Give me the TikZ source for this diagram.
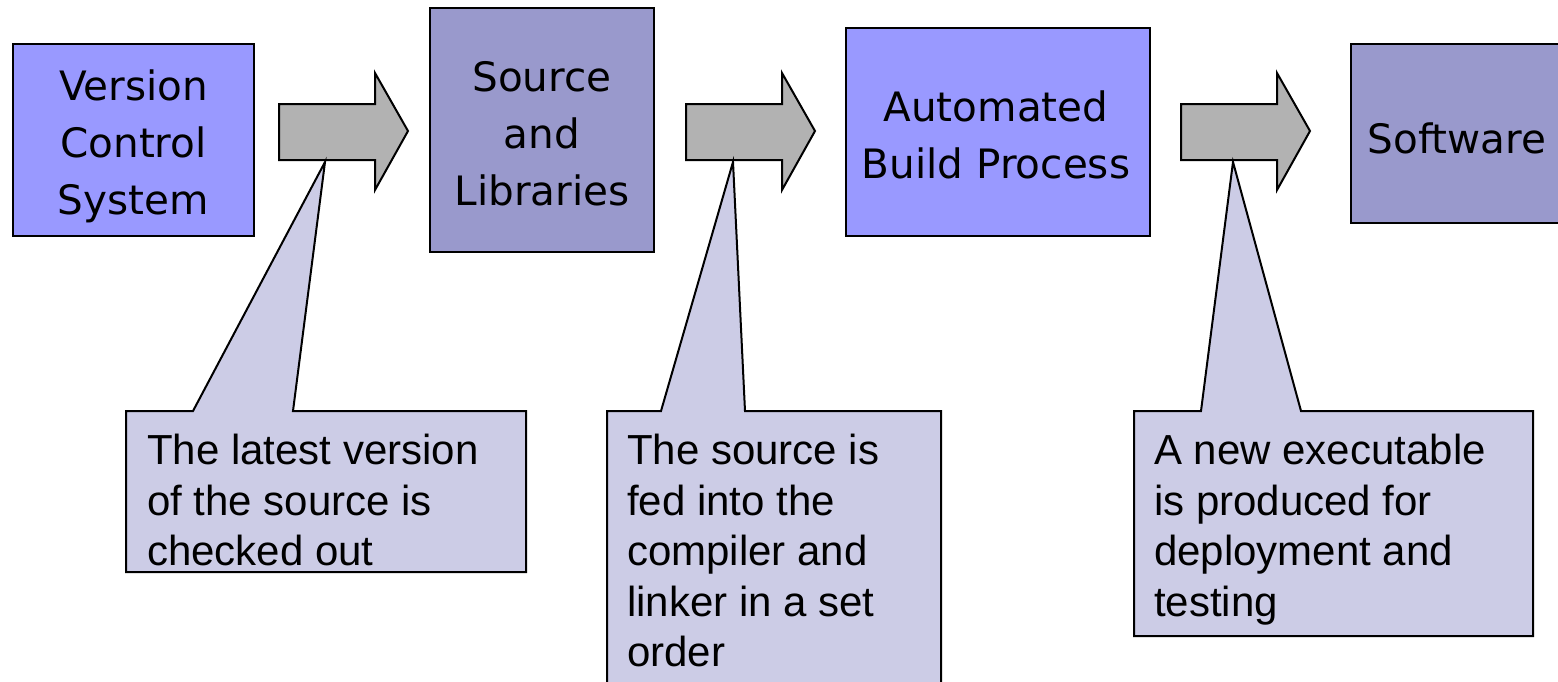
\documentclass[tikz,border=0pt]{standalone}
\usepackage{fontspec}
\setmainfont{Liberation Sans}
\newfontfamily\boxfont{DejaVu Sans}
\definecolor{boxblue}{RGB}{153,153,255}
\definecolor{boxslate}{RGB}{153,153,204}
\definecolor{arrowgray}{RGB}{178,178,178}
\definecolor{notefill}{RGB}{204,204,230}
\begin{document}
\begin{tikzpicture}[x=1pt,y=-1pt,line join=miter,
  stage/.style={draw=black,line width=2pt,inner sep=0pt},
  stagetext/.style={align=center,inner sep=0pt,
    font=\boxfont\fontsize{40.5}{57}\selectfont},
  flowarrow/.style={draw=black,line width=2pt,fill=arrowgray},
  note/.style={draw=black,line width=2pt,fill=notefill},
  notetext/.style={anchor=north west,align=left,inner sep=0pt,
    font=\fontsize{42}{50.5}\selectfont}]
\useasboundingbox (0,0) rectangle (1558,681);

% process stages
\node[stage,fill=boxblue,minimum width=241pt,minimum height=192pt] (vcs) at (133.5,140) {};
\node[stagetext] (vcs-t) at (133.5,146) {Version\\Control\\System};
\node[stage,fill=boxslate,minimum width=224pt,minimum height=244pt] (src) at (542,130) {};
\node[stagetext] (src-t) at (542,134) {Source\\and\\Libraries};
\node[stage,fill=boxblue,minimum width=304pt,minimum height=208pt] (build) at (998,132) {};
\node[stagetext] (build-t) at (996,135) {Automated\\Build Process};
\node[stage,fill=boxslate,minimum width=219pt,minimum height=179pt] (sw) at (1460.5,133.5) {};
\node[stagetext] (sw-t) at (1457,138) {Software};

% block arrows between the stages
\draw[flowarrow] (279,104) -- (375,104) -- (375,73) -- (408,131) -- (375,190) -- (375,160) -- (279,160) -- cycle;
\draw[flowarrow] (686,104) -- (782,104) -- (782,73) -- (815,131) -- (782,190) -- (782,160) -- (686,160) -- cycle;
\draw[flowarrow] (1181,104) -- (1277,104) -- (1277,73) -- (1310,131) -- (1277,190) -- (1277,160) -- (1181,160) -- cycle;

% callouts
\coordinate (t1) at (325,162);
\coordinate (t2) at (733,162);
\coordinate (t3) at (1233,162);
\draw[note] (126,411) -- (193,411) -- (t1) -- (293,411) -- (526,411) -- (526,572) -- (126,572) -- cycle;
\draw[note] (607,411) -- (661,411) -- (t2) -- (745,411) -- (941,411) -- (941,700) -- (607,700) -- cycle;
\draw[note] (1134,411) -- (1201,411) -- (t3) -- (1301,411) -- (1533,411) -- (1533,636) -- (1134,636) -- cycle;

\node[notetext] (n1) at (147,434) {The latest version\\of the source is\\checked out};
\node[notetext] (n2) at (627,434) {The source is\\fed into the\\compiler and\\linker in a set\\order};
\node[notetext] (n3) at (1154,434) {A new executable\\is produced for\\deployment and\\testing};
\end{tikzpicture}
\end{document}
